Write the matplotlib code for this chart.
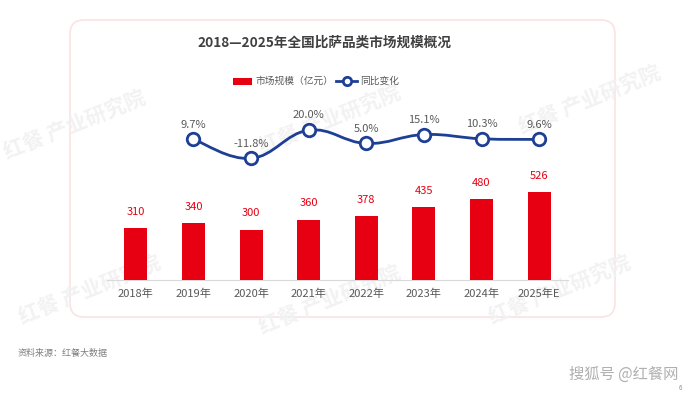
import numpy as np
import matplotlib
matplotlib.use('Agg')
import matplotlib.pyplot as plt
from matplotlib.patches import FancyBboxPatch, PathPatch, Rectangle
from matplotlib.path import Path
from matplotlib.lines import Line2D

plt.rcParams['font.family'] = ['Noto Sans CJK SC', 'DejaVu Sans']

years = ['2018年', '2019年', '2020年', '2021年', '2022年', '2023年', '2024年', '2025年E']
market = [310, 340, 300, 360, 378, 435, 480, 526]
yoy = [9.7, -11.8, 20.0, 5.0, 15.1, 10.3, 9.6]
yoy_labels = ['9.7%', '-11.8%', '20.0%', '5.0%', '15.1%', '10.3%', '9.6%']

red = '#e60012'
blue = '#1d3f94'
gray = '#595959'

W, H = 690, 395
fig = plt.figure(figsize=(W / 100, H / 100), dpi=100)

# rounded frame
frame = FancyBboxPatch((0.70, 0.78), 5.45, 2.97, boxstyle='round,pad=0,rounding_size=0.14',
                       transform=fig.dpi_scale_trans, facecolor='none',
                       edgecolor='#fbe3e3', linewidth=1.2, zorder=-2)
fig.patches.append(frame)

# faint watermarks
for (wx, wy) in [(75, 125), (330, 120), (590, 100), (90, 290), (330, 300), (560, 290)]:
    fig.text(wx / W, 1 - wy / H, '红餐 产业研究院', fontsize=15, color='#f2f2f2',
             rotation=22, ha='center', va='center', fontweight='bold', zorder=-1)

# main axes: bottom at y=280px, top at 100px
ax = fig.add_axes([107 / W, 1 - 280 / H, 461 / W, 180 / H])
ax.patch.set_alpha(0)
x = np.arange(len(years))
ax.bar(x, market, width=0.4, color=red, zorder=3)
ax.set_xlim(-0.5, 7.5)
ax.set_ylim(0, 180 / 0.168)
for xi, v in zip(x, market):
    ax.annotate(str(v), (xi, v), xytext=(0, 8), textcoords='offset points',
                ha='center', va='bottom', color=red, fontsize=8)
for s in ['top', 'left', 'right']:
    ax.spines[s].set_visible(False)
ax.spines['bottom'].set_color('#d9d9d9')
ax.set_yticks([])
ax.set_xticks(x)
ax.set_xticklabels(years, fontsize=8, color=gray)
ax.tick_params(axis='x', length=0, pad=6)

# line axes
ax2 = ax.twinx()
ax2.set_ylim(-(280 - 147.9) / 0.884, (147.9 - 100) / 0.884)
ax2.set_yticks([])
for s in ax2.spines.values():
    s.set_visible(False)
lx = x[1:]
ly = np.array(yoy)

# smooth bezier path through the points
verts = [(lx[0], ly[0])]
codes = [Path.MOVETO]
k = 0.2
for i in range(len(lx) - 1):
    p0 = (lx[max(i - 1, 0)], ly[max(i - 1, 0)])
    p1 = (lx[i], ly[i])
    p2 = (lx[i + 1], ly[i + 1])
    p3 = (lx[min(i + 2, len(lx) - 1)], ly[min(i + 2, len(lx) - 1)])
    c1 = (p1[0] + k * (p2[0] - p0[0]), p1[1] + k * (p2[1] - p0[1]))
    c2 = (p2[0] - k * (p3[0] - p1[0]), p2[1] - k * (p3[1] - p1[1]))
    verts += [c1, c2, p2]
    codes += [Path.CURVE4] * 3
ax2.add_patch(PathPatch(Path(verts, codes), facecolor='none', edgecolor=blue, lw=2, zorder=3))
ax2.plot(lx, ly, 'o', ms=9, mfc='white', mec=blue, mew=2, zorder=4)
for xi, v, t in zip(lx, ly, yoy_labels):
    ax2.annotate(t, (xi, v), xytext=(0, 7), textcoords='offset points',
                 ha='center', va='bottom', color=gray, fontsize=8)

# title
fig.text(324 / W, 1 - 43 / H, '2018—2025年全国比萨品类市场规模概况', ha='center', va='center',
         fontsize=9.8, fontweight='bold', color='#404040')

# legend
fig.patches.append(Rectangle((233 / W, 1 - 84.5 / H), 19 / W, 7 / H, transform=fig.transFigure,
                             facecolor=red, edgecolor='none'))
fig.text(256 / W, 1 - 81 / H, '市场规模（亿元）', ha='left', va='center', fontsize=7, color=gray)
fig.lines.append(Line2D([336 / W, 357 / W], [1 - 81 / H, 1 - 81 / H], transform=fig.transFigure,
                        color=blue, lw=2, zorder=3))
fig.lines.append(Line2D([346.5 / W], [1 - 81 / H], transform=fig.transFigure,
                        marker='o', ms=6, mfc='white', mec=blue, mew=2, ls='none', zorder=4))
fig.text(360 / W, 1 - 81 / H, '同比变化', ha='left', va='center', fontsize=7, color=gray)

# footer
fig.text(18 / W, 1 - 353 / H, '资料来源：红餐大数据', ha='left', va='center', fontsize=6.5, color='#808080')
fig.text(678 / W, 1 - 374 / H, '搜狐号 @红餐网', ha='right', va='center', fontsize=11,
         color='#b0b0b0', style='italic')
fig.text(680 / W, 1 - 388 / H, '6', ha='center', va='center', fontsize=4.5, color='#909090')

fig.savefig('out.png', dpi=100)
